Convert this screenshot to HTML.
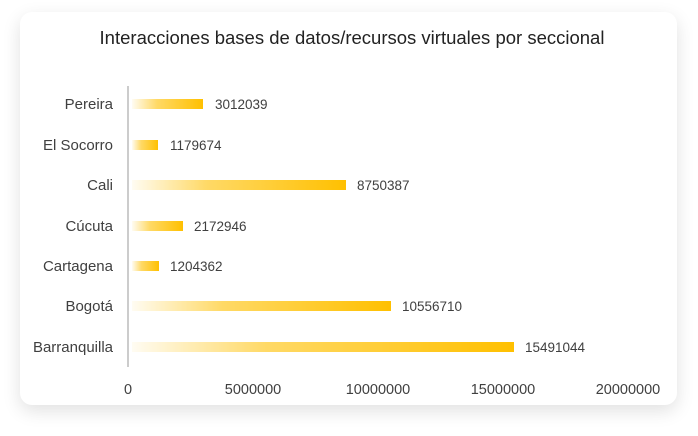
<!DOCTYPE html>
<html><head><meta charset="utf-8"><style>
body{margin:0;width:698px;height:436px;background:#fff;font-family:"Liberation Sans",sans-serif;overflow:hidden}
.card{position:absolute;left:20px;top:12px;width:657px;height:393px;border-radius:12px;background:#fff;box-shadow:0 6px 18px rgba(0,0,0,0.12)}
</style></head><body>
<div class="card"></div>
<svg width="698" height="436" style="position:absolute;left:0;top:0" font-family="Liberation Sans, sans-serif">
<defs><linearGradient id="g" x1="0" x2="1"><stop offset="0" stop-color="#FFC000" stop-opacity="0.05"/><stop offset="0.35" stop-color="#FFC000" stop-opacity="0.6"/><stop offset="1" stop-color="#FFC000"/></linearGradient></defs>
<text x="352" y="44" text-anchor="middle" font-size="18.5" fill="#222">Interacciones bases de datos/recursos virtuales por seccional</text>
<line x1="128" y1="86" x2="128" y2="367" stroke="#ccc" stroke-width="2"/>
<g font-size="13.5" fill="#404040">
<g text-anchor="end" font-size="15">
<text x="113" y="109">Pereira</text>
<text x="113" y="150">El Socorro</text>
<text x="113" y="190">Cali</text>
<text x="113" y="231">Cúcuta</text>
<text x="113" y="271">Cartagena</text>
<text x="113" y="311">Bogotá</text>
<text x="113" y="352">Barranquilla</text>
</g>
<rect x="132" y="99" width="71" height="10" fill="url(#g)"/><text x="215" y="109">3012039</text>
<rect x="132" y="140" width="26" height="10" fill="url(#g)"/><text x="170" y="150">1179674</text>
<rect x="132" y="180" width="214" height="10" fill="url(#g)"/><text x="357" y="190">8750387</text>
<rect x="132" y="221" width="51" height="10" fill="url(#g)"/><text x="194" y="231">2172946</text>
<rect x="132" y="261" width="27" height="10" fill="url(#g)"/><text x="170" y="271">1204362</text>
<rect x="132" y="301" width="259" height="10" fill="url(#g)"/><text x="402" y="311">10556710</text>
<rect x="132" y="342" width="382" height="10" fill="url(#g)"/><text x="525" y="352">15491044</text>
<g text-anchor="middle" font-size="14.5">
<text x="128" y="394">0</text>
<text x="253" y="394">5000000</text>
<text x="378" y="394">10000000</text>
<text x="503" y="394">15000000</text>
<text x="628" y="394">20000000</text>
</g></g>
</svg>
</body></html>
